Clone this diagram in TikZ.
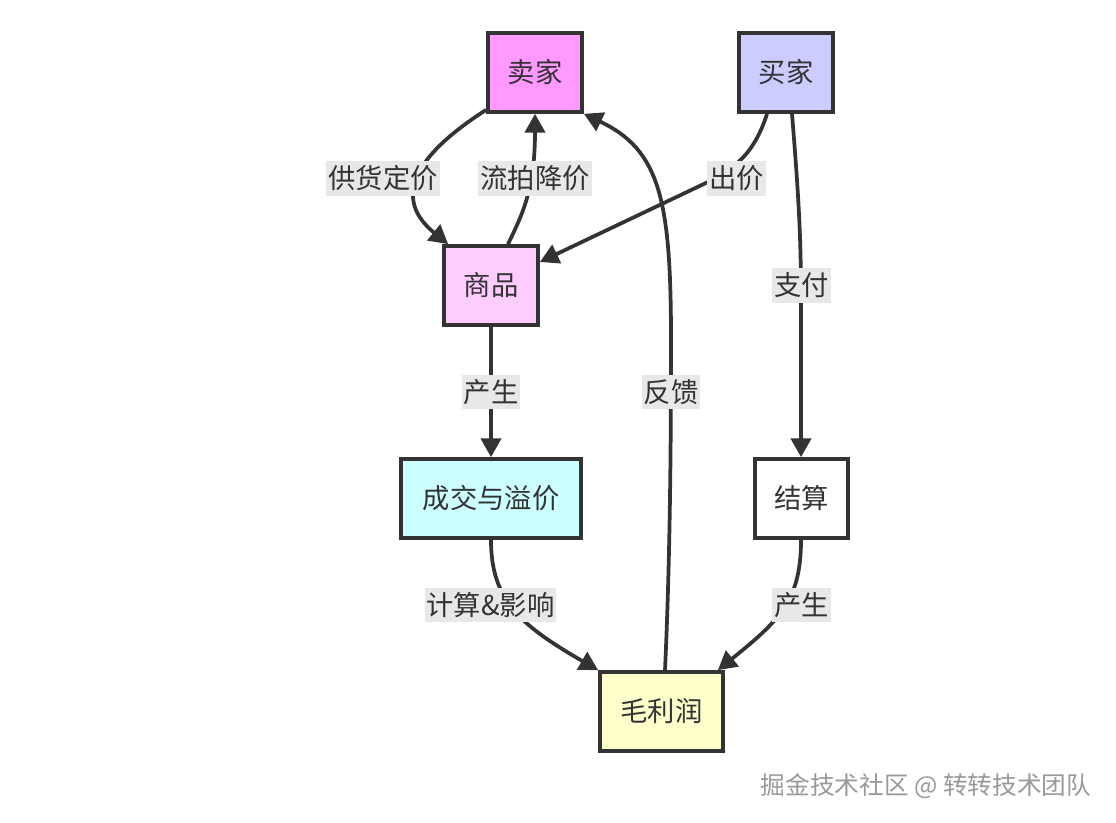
\documentclass[tikz,border=0pt]{standalone}
\usepackage{fontspec}
\newfontfamily\cjk{Noto Sans CJK SC}
\usetikzlibrary{arrows.meta,calc}
\definecolor{ink}{HTML}{333333}
\definecolor{lblbg}{HTML}{E8E8E8}
\definecolor{cSeller}{HTML}{FF99FF}
\definecolor{cBuyer}{HTML}{CCCCFF}
\definecolor{cGoods}{HTML}{FFCCFF}
\definecolor{cDeal}{HTML}{CCFFFF}
\definecolor{cSettle}{HTML}{FFFFFF}
\definecolor{cProfit}{HTML}{FFFFCC}
\definecolor{wm}{HTML}{999999}
\begin{document}
\begin{tikzpicture}[x=0.75pt,y=-0.75pt,
  box/.style={draw=ink, line width=2.8pt, text=ink, inner sep=0pt,
    minimum height=59.25pt, font=\cjk\fontsize{20.5pt}{24pt}\selectfont},
  edge/.style={draw=ink, line width=2.8pt, -{Triangle[length=14pt,width=15pt]}},
  lbl/.style={fill=lblbg, text=ink, inner xsep=1.5pt, inner ysep=3.5pt,
    font=\cjk\fontsize{20.5pt}{24pt}\selectfont},
  wmark/.style={text=wm, font=\cjk\fontsize{18.5pt}{22pt}\selectfont}]
\useasboundingbox[fill=white] (0,0) rectangle (1116,823);

\node[box, fill=cSeller, minimum width=70.5pt] (seller) at (535,72.5) {卖家};
\node[box, fill=cBuyer, minimum width=70.5pt] (buyer) at (786,72.5) {买家};
\node[box, fill=cGoods, minimum width=70.5pt] (goods) at (491,285.5) {商品};
\node[box, fill=cDeal, minimum width=135pt] (deal) at (491,498.5) {成交与溢价};
\node[box, fill=cSettle, minimum width=70pt] (settle) at (801.5,498.5) {结算};
\node[box, fill=cProfit, minimum width=92.25pt] (profit) at (661.5,711.5) {毛利润};

% edges
\draw[edge] ($(seller.south west)+(0,-4)$) .. controls (400,165) and (400,205) .. ($(goods.north west)+(6,0)$);
\draw[edge] ($(goods.north)+(17,0)$) .. controls (522,215) and (535,190) .. (seller.south);
\draw[edge] ($(buyer.south)+(-19,0)$) .. controls (757,145) and (742,166) .. (708,182) -- ($(goods.east)+(0,-23.5)$);
\draw[edge] ($(profit.north)+(3.5,0)$) .. controls (670,560) and (671,450) .. (671,340) .. controls (671,200) and (660,150) .. (seller.south east);
\draw[edge] ($(buyer.south)+(6,0)$) .. controls (799,200) and (801,240) .. (801,300) -- ($(settle.north)+(-0.5,0)$);
\draw[edge] (goods.south) -- (deal.north);
\draw[edge] (deal.south) .. controls (491,600) and (520,625) .. (profit.north west);
\draw[edge] ($(settle.south)+(-0.5,0)$) .. controls (801,600) and (780,620) .. ($(profit.north east)+(-7,0)$);

% labels
\node[lbl] (l1) at (383,178.5) {供货定价};
\node[lbl] (l2) at (535,178.5) {流拍降价};
\node[lbl] (l3) at (736.5,178.5) {出价};
\node[lbl] (l4) at (801.5,285.5) {支付};
\node[lbl] (l5) at (491,392) {产生};
\node[lbl] (l6) at (671,392) {反馈};
\node[lbl] (l7) at (490.5,605) {计算\&影响};
\node[lbl] (l8) at (801.5,605) {产生};

\node[wmark] (wm) at (926,786) {掘金技术社区 @ 转转技术团队};
\end{tikzpicture}
\end{document}
